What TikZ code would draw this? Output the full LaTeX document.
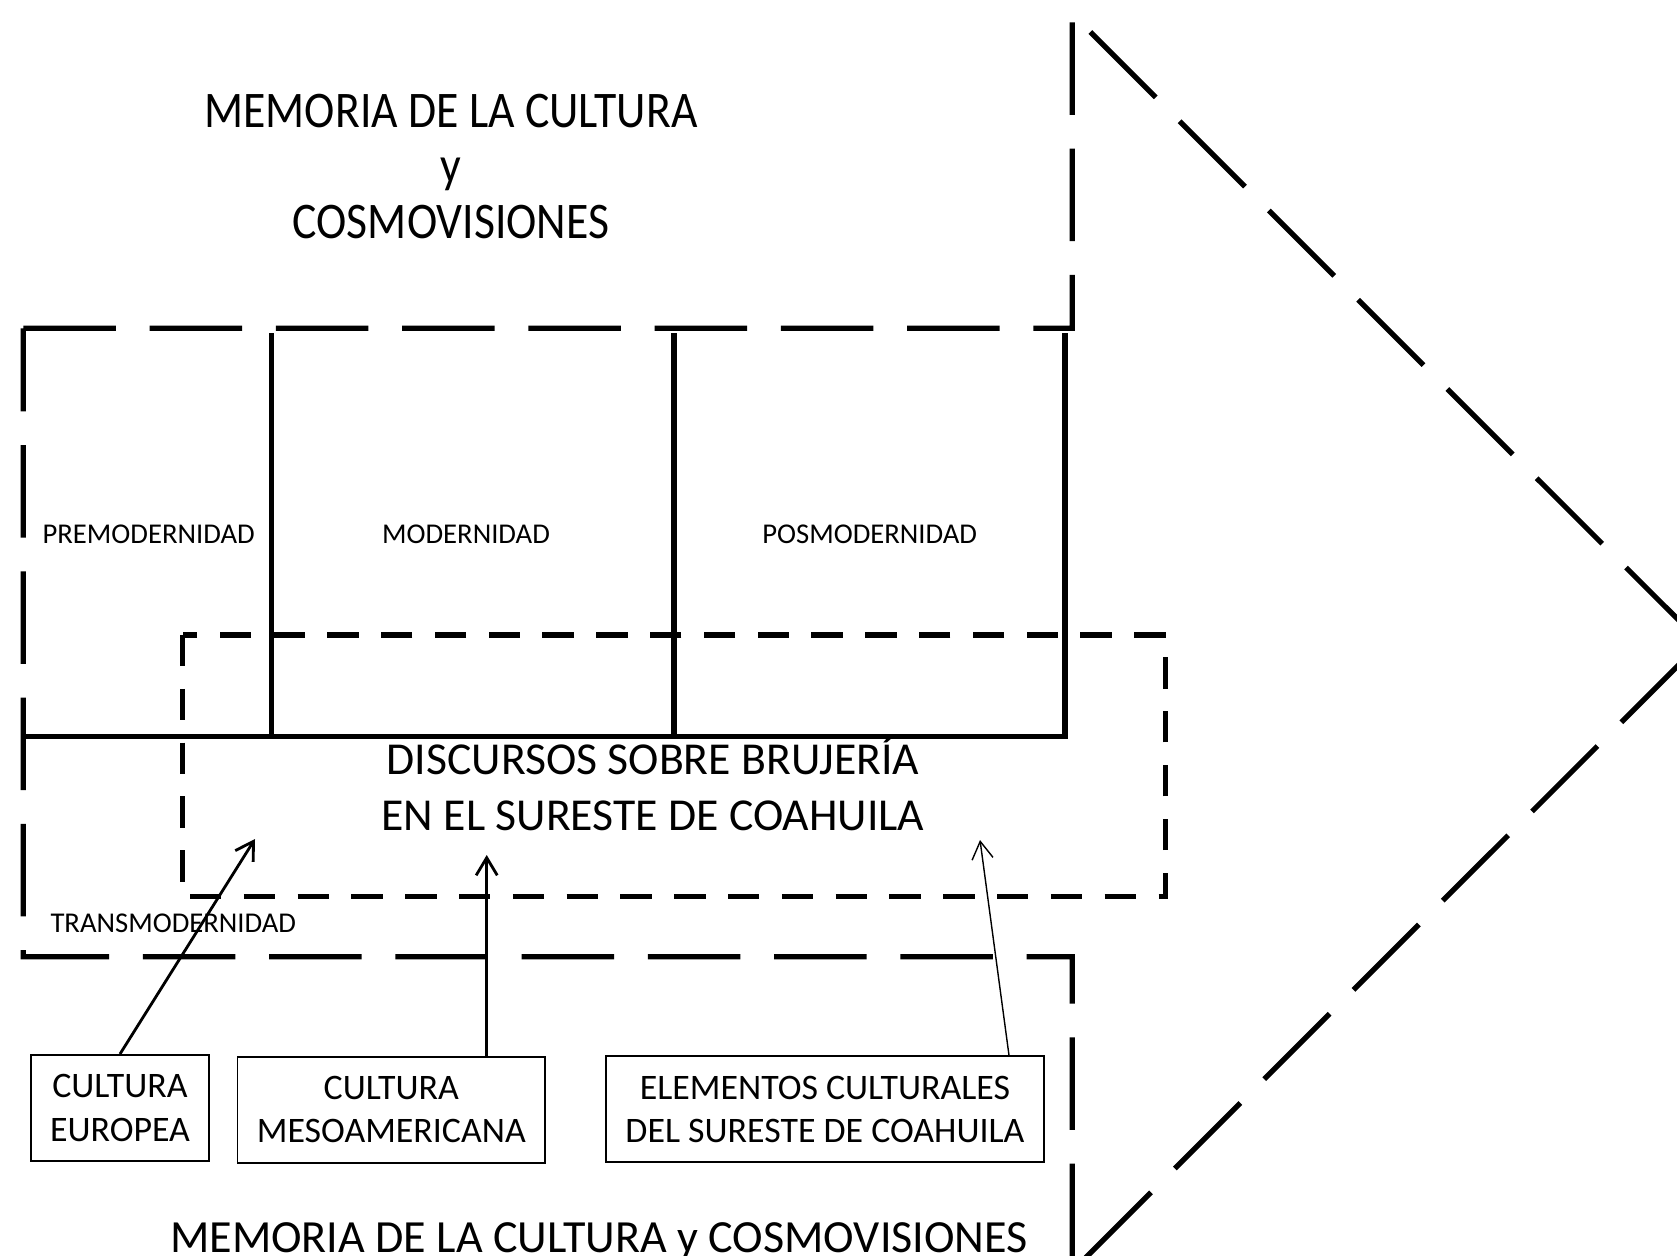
\documentclass[tikz,border=0pt]{standalone}
\usepackage{fontspec}
\setmainfont{Carlito}
\newfontfamily\titlefont[FakeStretch=0.89]{Carlito}
\usetikzlibrary{arrows.meta}

\tikzstyle{etapa} = [font=\fontsize{8.15}{9}\selectfont, inner sep=0pt, anchor=base]
\tikzstyle{titulo} = [font=\fontsize{13}{15.9}\selectfont, align=center, inner sep=0pt, anchor=base]
\tikzstyle{caja} = [rectangle, draw, line width=0.5pt, %fill=white,
     font=\fontsize{10.2}{12.3}\selectfont, align=center, inner sep=0pt, minimum height=1.06cm]
\tikzstyle{arrow} = [draw, -{Straight Barb[length=5pt,width=6pt]}, line width=0.8pt]
\tikzstyle{borde} = [line width=1.5pt, dash pattern=on 26.3pt off 9.6pt]
\tikzstyle{marco} = [line width=1.55pt, dash pattern=on 8.9pt off 6.4pt]
\tikzstyle{division} = [line width=1.5pt]

\begin{document}
\begin{tikzpicture}[x=0.01cm, y=-0.01cm]
\useasboundingbox (0,0) rectangle (1677,1255);
\clip (0,0) rectangle (1677,1255);

% flecha grande
\draw[borde] (23.3,328.3) -- (1072.3,328.3) -- (1072.3,14) -- (1701,642.5)
    -- (1072.3,1271) -- (1072.3,956.7) -- (23.3,956.7) -- cycle;

% periodos
\draw[division] (271.7,333) -- (271.7,736.7);
\draw[division] (674,333) -- (674,736.7);
\draw[division] (23.3,736.7) -- (1065,736.7) -- (1065,333);

\draw[marco] (182.7,635) rectangle (1165.7,896.7);

% base = ultima linea
\node[titulo, font=\titlefont\fontsize{14.6}{15.8}\selectfont] (memoria_arriba) at (451,238.5)
    {MEMORIA DE LA CULTURA\\y\\COSMOVISIONES};
\node[titulo, font=\fontsize{13.1}{15.9}\selectfont] (memoria_abajo) at (599,1252.7) {MEMORIA DE LA CULTURA y COSMOVISIONES};

\node[etapa] (premodernidad) at (148.7,543.3) {PREMODERNIDAD};
\node[etapa] (modernidad) at (466,543.3) {MODERNIDAD};
\node[etapa] (posmodernidad) at (869.7,543.3) {POSMODERNIDAD};
\node[etapa] (transmodernidad) at (173.3,932.7) {TRANSMODERNIDAD};

\node[titulo] (discursos) at (653,830) {DISCURSOS SOBRE BRUJERÍA\\EN EL SURESTE DE COAHUILA};

\node[caja, minimum width=1.786cm] (europea) at (120,1107.9) {CULTURA\\EUROPEA};
\node[caja, minimum width=3.073cm] (meso) at (391.3,1109.7) {CULTURA\\MESOAMERICANA};
\node[caja, minimum width=4.38cm] (elementos) at (825,1109.2) {ELEMENTOS CULTURALES\\DEL SURESTE DE COAHUILA};

\coordinate (punta_europea) at (255,839);
\coordinate (punta_meso) at (486.7,855);
\coordinate (punta_elementos) at (980,840);

\path[arrow] (europea.north) -- (punta_europea);
\path[arrow] (meso.north -| punta_meso) -- (punta_meso);
\path[arrow, line width=0.4pt] ([xshift=-0.36cm]elementos.north east) -- (punta_elementos);
\end{tikzpicture}
\end{document}
